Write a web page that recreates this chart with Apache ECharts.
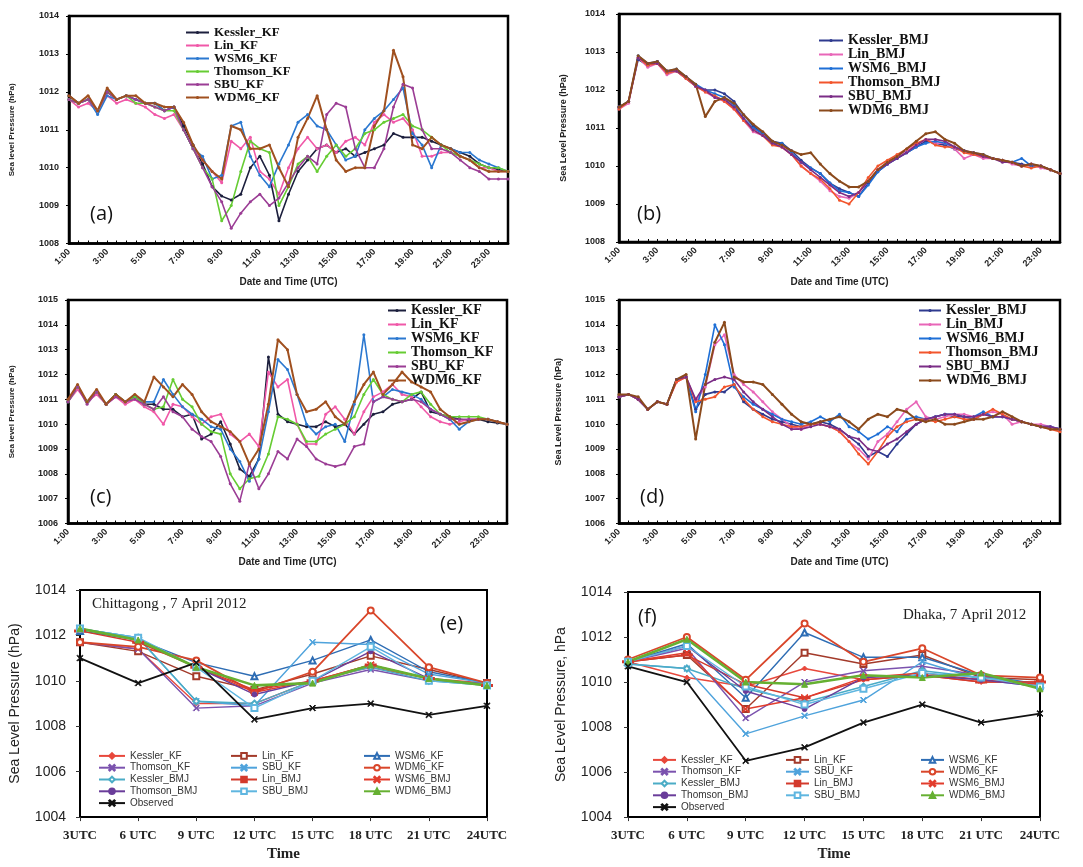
<!DOCTYPE html>
<html><head><meta charset="utf-8">
<script src="https://cdn.jsdelivr.net/npm/echarts@6/dist/echarts.min.js"></script>
<style>
body{margin:0;background:#fff;width:1083px;height:867px;position:relative;overflow:hidden}
.p{position:absolute}
</style></head><body>
<div id="pa" class="p" style="left:0;top:0;width:540px;height:292px"></div>
<div id="pb" class="p" style="left:540px;top:0;width:543px;height:292px"></div>
<div id="pc" class="p" style="left:0;top:292px;width:540px;height:280px"></div>
<div id="pd" class="p" style="left:540px;top:292px;width:543px;height:280px"></div>
<div id="pe" class="p" style="left:0;top:572px;width:540px;height:295px"></div>
<div id="pf" class="p" style="left:540px;top:572px;width:543px;height:295px"></div>
<script>
// ---------- categories ----------
const HOURS = ['1:00','1:30','2:00','2:30','3:00','3:30','4:00','4:30','5:00','5:30','6:00','6:30','7:00','7:30','8:00','8:30','9:00','9:30','10:00','10:30','11:00','11:30','12:00','12:30','13:00','13:30','14:00','14:30','15:00','15:30','16:00','16:30','17:00','17:30','18:00','18:30','19:00','19:30','20:00','20:30','21:00','21:30','22:00','22:30','23:00','23:30','24:00'];
const UTC = ['3UTC','6 UTC','9 UTC','12 UTC','15 UTC','18 UTC','21 UTC','24UTC'];

// ---------- panel (a) KF ----------
const A_KESSLER = [1011.9,1011.7,1011.8,1011.5,1012.0,1011.8,1011.9,1011.8,1011.7,1011.7,1011.5,1011.6,1011.1,1010.6,1010.1,1009.5,1009.25,1009.15,1009.3,1010.0,1010.3,1009.8,1008.6,1009.3,1009.9,1010.2,1010.5,1010.6,1010.4,1010.5,1010.3,1010.4,1010.5,1010.6,1010.9,1010.8,1010.8,1010.8,1010.7,1010.6,1010.5,1010.4,1010.3,1010.1,1010.0,1009.95,1009.9];
const A_LIN = [1011.8,1011.6,1011.7,1011.5,1011.9,1011.7,1011.8,1011.7,1011.6,1011.4,1011.3,1011.4,1011.0,1010.5,1010.2,1009.9,1009.6,1010.7,1010.5,1010.8,1009.9,1009.7,1009.3,1010.0,1010.5,1010.8,1010.5,1010.6,1010.4,1010.7,1010.8,1010.6,1011.2,1011.4,1011.2,1011.3,1011.0,1010.3,1010.3,1010.4,1010.4,1010.3,1010.2,1010.0,1010.0,1009.9,1009.9];
const A_WSM6 = [1011.8,1011.7,1011.8,1011.4,1011.9,1011.8,1011.9,1011.8,1011.7,1011.7,1011.5,1011.6,1011.0,1010.5,1010.3,1009.7,1009.8,1011.1,1011.2,1010.3,1009.8,1009.5,1010.1,1010.6,1011.2,1011.4,1011.1,1011.0,1010.6,1010.2,1010.3,1011.0,1011.3,1011.5,1011.8,1012.1,1010.9,1010.6,1010.0,1010.6,1010.5,1010.4,1010.4,1010.2,1010.1,1010.0,1009.9];
const A_THOMSON = [1011.8,1011.7,1011.8,1011.5,1012.0,1011.8,1011.9,1011.7,1011.7,1011.6,1011.5,1011.5,1011.0,1010.5,1010.0,1009.7,1008.6,1009.0,1009.9,1010.7,1010.5,1010.4,1009.0,1009.5,1010.1,1010.3,1009.9,1010.3,1010.6,1010.3,1010.5,1010.9,1011.0,1011.2,1011.3,1011.4,1011.1,1011.0,1010.8,1010.6,1010.4,1010.3,1010.2,1010.1,1010.0,1010.0,1009.9];
const A_SBU = [1011.8,1011.7,1011.8,1011.5,1012.0,1011.8,1011.9,1011.8,1011.7,1011.6,1011.5,1011.6,1011.0,1010.5,1010.0,1009.5,1009.1,1008.4,1008.8,1009.1,1009.3,1009.0,1009.2,1009.6,1010.0,1010.3,1010.1,1011.4,1011.7,1011.6,1010.5,1010.0,1010.0,1010.5,1011.6,1012.2,1012.1,1011.0,1010.5,1010.5,1010.4,1010.2,1010.0,1009.9,1009.7,1009.7,1009.7];
const A_WDM6 = [1011.9,1011.7,1011.9,1011.5,1012.1,1011.8,1011.9,1011.9,1011.7,1011.7,1011.6,1011.6,1011.2,1010.6,1010.2,1009.9,1009.7,1011.1,1011.0,1010.5,1010.5,1010.6,1010.0,1009.5,1010.8,1011.3,1011.9,1011.0,1010.2,1009.9,1010.0,1010.0,1011.1,1011.5,1013.1,1012.4,1010.6,1010.5,1010.8,1010.6,1010.5,1010.3,1010.2,1010.0,1009.9,1009.9,1009.9];

// ---------- panel (b) BMJ ----------
const B_KESSLER = [1011.55,1011.7,1012.8,1012.65,1012.75,1012.45,1012.5,1012.3,1012.1,1012.0,1012.0,1011.9,1011.7,1011.35,1011.05,1010.85,1010.65,1010.6,1010.4,1010.15,1009.95,1009.8,1009.55,1009.4,1009.3,1009.2,1009.55,1009.85,1010.05,1010.2,1010.35,1010.5,1010.65,1010.6,1010.55,1010.45,1010.4,1010.3,1010.25,1010.2,1010.15,1010.1,1010.05,1010.0,1010.0,1009.9,1009.8];
const B_LIN = [1011.5,1011.65,1012.85,1012.6,1012.7,1012.4,1012.5,1012.3,1012.1,1011.95,1011.8,1011.7,1011.5,1011.2,1010.9,1010.8,1010.6,1010.5,1010.3,1010.0,1009.8,1009.6,1009.35,1009.2,1009.15,1009.3,1009.6,1009.9,1010.1,1010.25,1010.4,1010.55,1010.7,1010.6,1010.6,1010.45,1010.2,1010.3,1010.2,1010.2,1010.15,1010.05,1010.0,1010.05,1009.95,1009.9,1009.8];
const B_WSM6 = [1011.55,1011.7,1012.9,1012.7,1012.75,1012.5,1012.55,1012.35,1012.15,1012.0,1011.9,1011.8,1011.6,1011.25,1011.0,1010.85,1010.6,1010.6,1010.35,1010.1,1009.95,1009.8,1009.55,1009.35,1009.3,1009.2,1009.5,1009.85,1010.05,1010.2,1010.35,1010.5,1010.6,1010.65,1010.6,1010.5,1010.4,1010.35,1010.3,1010.2,1010.15,1010.1,1010.2,1010.0,1010.0,1009.9,1009.8];
const B_THOMSON = [1011.5,1011.7,1012.85,1012.65,1012.7,1012.45,1012.5,1012.3,1012.1,1011.95,1011.85,1011.7,1011.5,1011.2,1010.95,1010.8,1010.55,1010.5,1010.3,1010.0,1009.8,1009.65,1009.4,1009.1,1009.0,1009.3,1009.7,1010.0,1010.15,1010.3,1010.45,1010.6,1010.7,1010.55,1010.5,1010.5,1010.35,1010.3,1010.25,1010.2,1010.15,1010.1,1010.0,1009.95,1010.0,1009.9,1009.8];
const B_SBU = [1011.55,1011.7,1012.85,1012.7,1012.7,1012.5,1012.5,1012.35,1012.1,1012.0,1011.8,1011.75,1011.55,1011.25,1010.95,1010.8,1010.6,1010.5,1010.3,1010.1,1009.9,1009.7,1009.5,1009.3,1009.2,1009.3,1009.6,1009.9,1010.05,1010.2,1010.35,1010.55,1010.7,1010.7,1010.65,1010.5,1010.4,1010.35,1010.25,1010.2,1010.1,1010.1,1010.0,1010.05,1010.0,1009.9,1009.8];
const B_WDM6 = [1011.55,1011.7,1012.9,1012.7,1012.75,1012.5,1012.55,1012.35,1012.15,1011.3,1011.7,1011.8,1011.65,1011.35,1011.1,1010.9,1010.65,1010.55,1010.4,1010.3,1010.35,1010.05,1009.8,1009.6,1009.45,1009.45,1009.6,1009.9,1010.1,1010.25,1010.45,1010.65,1010.85,1010.9,1010.7,1010.6,1010.4,1010.35,1010.3,1010.2,1010.15,1010.1,1010.0,1010.05,1010.0,1009.9,1009.8];

// ---------- panel (c) KF ----------
const C_KESSLER = [1010.9,1011.5,1010.9,1011.3,1010.8,1011.2,1010.9,1011.1,1010.8,1010.8,1010.6,1010.6,1010.3,1010.4,1009.4,1009.6,1010.1,1009.2,1008.2,1007.9,1008.6,1012.7,1010.4,1010.1,1010.0,1009.9,1009.9,1010.1,1009.9,1010.0,1009.6,1010.0,1010.4,1010.5,1010.8,1010.9,1011.0,1011.3,1010.5,1010.4,1010.3,1010.2,1010.15,1010.2,1010.1,1010.05,1010.0];
const C_LIN = [1010.9,1011.4,1010.9,1011.2,1010.8,1011.1,1010.8,1011.0,1010.7,1010.5,1010.0,1010.8,1010.7,1010.3,1010.0,1010.3,1010.4,1009.6,1009.3,1009.6,1009.1,1012.1,1011.5,1011.8,1010.0,1009.2,1009.2,1010.4,1010.7,1010.2,1009.6,1010.5,1011.1,1011.3,1011.6,1011.2,1011.1,1010.7,1010.3,1010.1,1010.0,1010.1,1010.2,1010.2,1010.2,1010.1,1010.0];
const C_WSM6 = [1010.9,1011.5,1010.9,1011.3,1010.8,1011.2,1010.9,1011.1,1010.9,1010.9,1011.8,1011.2,1010.7,1010.4,1010.2,1009.9,1009.8,1009.0,1008.5,1007.7,1008.6,1010.5,1012.6,1012.2,1011.2,1010.0,1009.6,1009.9,1010.0,1009.3,1010.8,1013.6,1010.9,1011.1,1011.4,1011.3,1011.2,1011.0,1010.6,1010.4,1010.2,1009.8,1010.1,1010.2,1010.2,1010.1,1010.0];
const C_THOMSON = [1010.9,1011.5,1010.9,1011.3,1010.8,1011.2,1010.9,1011.1,1010.8,1010.6,1010.7,1011.8,1011.0,1010.7,1010.0,1009.7,1009.6,1008.0,1007.4,1007.8,1007.9,1008.8,1010.3,1010.2,1010.0,1009.3,1009.3,1009.6,1009.8,1010.0,1010.3,1011.2,1011.8,1011.2,1011.0,1010.9,1011.2,1011.3,1010.8,1010.4,1010.3,1010.3,1010.3,1010.3,1010.2,1010.1,1010.0];
const C_SBU = [1010.9,1011.5,1010.8,1011.3,1010.8,1011.1,1010.9,1011.0,1010.8,1010.6,1011.1,1010.5,1010.3,1009.8,1009.5,1009.3,1008.7,1007.6,1006.9,1008.4,1007.4,1008.0,1008.9,1008.6,1009.4,1009.1,1008.6,1008.4,1008.3,1008.4,1009.1,1009.2,1010.9,1011.1,1011.0,1010.9,1011.0,1010.9,1010.6,1010.4,1010.2,1010.2,1010.2,1010.2,1010.2,1010.1,1010.0];
const C_WDM6 = [1011.0,1011.6,1010.9,1011.4,1010.8,1011.2,1010.9,1011.2,1010.9,1011.9,1011.5,1011.1,1011.6,1011.2,1010.5,1010.1,1009.9,1009.7,1009.3,1008.4,1009.0,1010.8,1013.4,1013.0,1011.2,1010.5,1010.6,1010.9,1010.3,1010.0,1010.9,1011.6,1012.1,1011.2,1011.6,1012.1,1011.7,1011.5,1011.3,1010.6,1010.3,1010.0,1010.1,1010.2,1010.2,1010.1,1010.0];

// ---------- panel (d) BMJ ----------
const D_KESSLER = [1011.1,1011.2,1011.0,1010.6,1010.9,1010.8,1011.8,1011.9,1010.6,1011.2,1011.3,1011.3,1011.6,1010.9,1010.6,1010.4,1010.2,1010.1,1010.0,1009.9,1010.0,1010.1,1010.0,1009.8,1009.5,1009.2,1008.7,1008.9,1008.7,1009.2,1009.6,1010.0,1010.2,1010.3,1010.4,1010.3,1010.3,1010.2,1010.4,1010.3,1010.3,1010.2,1010.1,1010.0,1009.9,1009.9,1009.8];
const D_LIN = [1011.1,1011.2,1011.0,1010.6,1010.9,1010.8,1011.7,1011.9,1010.9,1011.5,1013.2,1013.6,1012.0,1011.6,1011.3,1010.9,1010.5,1010.2,1009.9,1009.8,1010.0,1010.0,1009.9,1009.7,1009.3,1009.0,1008.6,1009.3,1009.6,1010.1,1010.6,1010.9,1010.3,1010.2,1010.3,1010.4,1010.4,1010.3,1010.4,1010.5,1010.4,1010.0,1010.1,1010.0,1010.0,1009.9,1009.8];
const D_WSM6 = [1011.1,1011.2,1011.0,1010.6,1010.9,1010.8,1011.8,1011.9,1010.5,1012.0,1014.0,1013.2,1011.5,1011.1,1010.8,1010.6,1010.4,1010.2,1010.1,1010.0,1010.1,1010.3,1010.1,1010.4,1009.9,1009.7,1009.4,1009.6,1009.9,1009.7,1010.2,1010.3,1010.2,1010.3,1010.4,1010.4,1010.3,1010.3,1010.5,1010.3,1010.3,1010.2,1010.1,1010.0,1009.9,1009.9,1009.8];
const D_THOMSON = [1011.1,1011.2,1011.0,1010.6,1010.9,1010.8,1011.7,1011.9,1010.9,1011.0,1011.1,1011.5,1011.6,1011.0,1010.6,1010.3,1010.1,1010.0,1009.9,1009.9,1010.0,1010.0,1009.9,1009.7,1009.3,1008.8,1008.4,1008.9,1009.5,1009.9,1010.1,1010.2,1010.2,1010.1,1010.2,1010.3,1010.2,1010.2,1010.4,1010.6,1010.4,1010.2,1010.1,1010.0,1009.9,1009.8,1009.7];
const D_SBU = [1011.1,1011.2,1011.0,1010.6,1010.9,1010.8,1011.8,1011.9,1011.0,1011.6,1011.8,1011.9,1011.8,1011.3,1010.9,1010.6,1010.3,1010.0,1009.8,1009.8,1009.9,1010.0,1009.9,1009.8,1009.5,1009.4,1009.0,1008.9,1009.2,1009.4,1009.7,1010.0,1010.2,1010.3,1010.4,1010.4,1010.3,1010.3,1010.4,1010.3,1010.3,1010.2,1010.1,1010.0,1009.9,1009.9,1009.8];
const D_WDM6 = [1011.2,1011.2,1011.1,1010.6,1010.9,1010.8,1011.8,1012.0,1009.4,1011.6,1013.3,1014.1,1011.9,1011.7,1011.7,1011.6,1011.2,1010.8,1010.4,1010.1,1010.0,1010.1,1010.2,1010.3,1010.1,1009.8,1010.2,1010.4,1010.3,1010.6,1010.5,1010.2,1010.1,1010.2,1010.0,1010.0,1010.1,1010.2,1010.2,1010.3,1010.5,1010.3,1010.1,1010.0,1009.9,1009.8,1009.8];

// ---------- panel (e) Chittagong ----------
const E_KESSLER_KF = [1011.7,1011.4,1009.0,1009.0,1010.0,1010.6,1010.1,1009.9];
const E_LIN_KF = [1011.7,1011.3,1010.2,1009.6,1010.3,1011.1,1010.5,1009.9];
const E_WSM6_KF = [1012.2,1011.8,1010.8,1010.2,1010.9,1011.8,1010.4,1009.9];
const E_THOMSON_KF = [1011.7,1011.4,1008.8,1008.9,1009.9,1010.5,1010.0,1009.9];
const E_SBU_KF = [1012.3,1011.9,1009.1,1008.9,1011.7,1011.6,1010.3,1009.9];
const E_WDM6_KF = [1011.7,1011.5,1010.9,1009.5,1010.4,1013.1,1010.6,1009.9];
const E_KESSLER_BMJ = [1012.3,1011.9,1009.1,1009.0,1010.0,1010.6,1010.0,1009.8];
const E_LIN_BMJ = [1012.2,1011.7,1010.6,1009.6,1010.0,1010.7,1010.1,1009.8];
const E_WSM6_BMJ = [1012.3,1011.8,1010.6,1009.5,1010.0,1010.7,1010.1,1009.8];
const E_THOMSON_BMJ = [1012.3,1011.8,1010.6,1009.4,1010.0,1011.3,1010.1,1009.8];
const E_SBU_BMJ = [1012.3,1011.9,1010.6,1008.8,1010.0,1011.5,1010.0,1009.8];
const E_WDM6_BMJ = [1012.3,1011.8,1010.6,1009.8,1009.9,1010.7,1010.1,1009.8];
const E_OBS = [1011.0,1009.9,1010.8,1008.3,1008.8,1009.0,1008.5,1008.9];

// ---------- panel (f) Dhaka ----------
const F_KESSLER_KF = [1010.9,1010.2,1009.8,1010.6,1010.1,1010.3,1010.0,1010.0];
const F_LIN_KF = [1010.9,1011.2,1008.8,1011.3,1010.8,1011.2,1010.2,1010.1];
const F_WSM6_KF = [1010.9,1011.7,1009.3,1012.2,1011.1,1011.1,1010.3,1009.9];
const F_THOMSON_KF = [1010.9,1011.5,1008.4,1010.0,1010.5,1010.7,1010.3,1009.8];
const F_SBU_KF = [1010.8,1010.6,1007.7,1008.5,1009.2,1010.9,1010.1,1009.8];
const F_WDM6_KF = [1011.0,1012.0,1010.1,1012.6,1010.9,1011.5,1010.3,1010.2];
const F_KESSLER_BMJ = [1010.8,1010.6,1009.7,1009.1,1009.8,1010.5,1010.2,1009.9];
const F_LIN_BMJ = [1010.9,1011.2,1009.9,1009.3,1010.1,1010.3,1010.0,1010.0];
const F_WSM6_BMJ = [1010.9,1011.3,1008.8,1009.3,1010.2,1010.4,1010.1,1009.9];
const F_THOMSON_BMJ = [1010.9,1011.6,1009.6,1008.8,1010.2,1010.3,1010.1,1009.8];
const F_SBU_BMJ = [1010.9,1011.6,1009.8,1009.0,1009.7,1010.4,1010.2,1009.8];
const F_WDM6_BMJ = [1010.9,1011.9,1010.0,1009.9,1010.3,1010.2,1010.4,1009.7];
const F_OBS = [1010.7,1010.0,1006.5,1007.1,1008.2,1009.0,1008.2,1008.6];

// ---------- styling helpers ----------
const SANS = '"Liberation Sans", Arial, sans-serif';
const SERIF = '"Liberation Serif", "Times New Roman", serif';
const KF_COL = ['#1c1f3d','#f058a8','#2b78d0','#66cc33','#9b3d95','#a0501f'];
const BMJ_COL = ['#2e3a8f','#e866b8','#1e6fd6','#f2552c','#7b2d86','#8b4a1c'];
const plain = v => String(v);

function tsOption(c){
  return {
    animation:false,
    grid:{left:c.gl, top:c.gt, width:c.gw, height:c.gh, show:true, borderColor:'#000', borderWidth:2.5, containLabel:false},
    xAxis:{type:'category', data:HOURS, boundaryGap:false,
      axisLine:{lineStyle:{color:'#000', width:2.5}},
      axisTick:{interval:0, inside:true, length:3, lineStyle:{color:'#000', width:1}},
      axisLabel:{interval:3, rotate:45, fontSize:9, fontWeight:'bold', color:'#222', margin:7, fontFamily:SANS},
      name:'Date and Time (UTC)', nameLocation:'middle', nameGap:c.xng,
      nameTextStyle:{fontSize:10, fontWeight:'bold', color:'#222', fontFamily:SANS}},
    yAxis:{type:'value', min:c.ymin, max:c.ymax, interval:1, splitLine:{show:false},
      axisLine:{show:true, lineStyle:{color:'#000', width:2.5}},
      axisTick:{show:true, length:3, lineStyle:{color:'#000'}},
      axisLabel:{formatter:plain, fontSize:9, fontWeight:'bold', color:'#222', margin:c.ylm, fontFamily:SANS},
      name:c.yname, nameLocation:'middle', nameGap:c.yng,
      nameTextStyle:{fontSize:c.ynfs, fontWeight:'bold', color:'#222', fontFamily:SANS}},
    legend:{left:c.ll, top:c.lt, orient:'vertical', padding:0, itemGap:0, itemWidth:c.lw, itemHeight:4,
      textStyle:{fontFamily:SERIF, fontWeight:'bold', fontSize:c.lfs, lineHeight:c.llh, color:'#111'},
      data:c.series.map(s=>s[0])},
    graphic:[{type:'text', left:c.tx, top:c.ty, style:{text:c.tag, font:'20px "Open Sans", sans-serif', fill:'#111'}}],
    series:c.series.map(s=>({name:s[0], type:'line', data:s[1], symbol:'circle', symbolSize:3, showAllSymbol:true,
      lineStyle:{color:s[2], width:s[3]||1.6}, itemStyle:{color:s[2]}}))
  };
}

const XS = 'path://M1,0L5,4L9,0L10,1L6,5L10,9L9,10L5,6L1,10L0,9L4,5L0,1Z';
const DASH = 'path://M0,4L10,4L10,6L0,6Z';

function mSeries(name, data, color, symbol, size, width){
  return {name, type:'line', data, symbol, symbolSize:size, showAllSymbol:true,
    lineStyle:{color, width:width||1.4}, itemStyle:{color, borderColor:color, borderWidth:1}};
}

function utcOption(c){
  const lt = {orient:'vertical', padding:0, itemGap:0, itemWidth:c.lw, itemHeight:7, top:c.lt,
    textStyle:{fontFamily:SANS, fontSize:10, lineHeight:11.8, color:'#333'}};
  return {
    animation:false,
    grid:{left:c.gl, top:c.gt, width:c.gw, height:c.gh, show:true, borderColor:'#000', borderWidth:2},
    title:{text:c.title, left:c.ttx, top:c.tty, padding:0,
      textStyle:{fontFamily:SERIF, fontSize:15, fontWeight:'normal', color:'#222'}},
    xAxis:{type:'category', data:UTC, boundaryGap:false,
      axisLine:{lineStyle:{color:'#000', width:2}},
      axisTick:{show:true, interval:0, length:4, lineStyle:{color:'#333'}},
      axisLabel:{interval:0, fontFamily:SERIF, fontSize:13, fontWeight:'bold', color:'#222', margin:12},
      name:'Time', nameLocation:'middle', nameGap:27,
      nameTextStyle:{fontFamily:SERIF, fontSize:15, fontWeight:'bold', color:'#222'}},
    yAxis:{type:'value', min:1004, max:1014, interval:2, splitLine:{show:false},
      axisLine:{show:true, lineStyle:{color:'#000', width:2}},
      axisTick:{show:true, length:4, lineStyle:{color:'#333'}},
      axisLabel:{formatter:plain, fontFamily:SANS, fontSize:14, color:'#222', margin:c.ylm},
      name:c.yname, nameLocation:'middle', nameGap:c.yng,
      nameTextStyle:{fontFamily:SANS, fontSize:14, color:'#222'}},
    legend:[
      Object.assign({left:c.c1, data:['Kessler_KF','Thomson_KF','Kessler_BMJ','Thomson_BMJ','Observed']}, lt),
      Object.assign({left:c.c2, data:['Lin_KF','SBU_KF','Lin_BMJ','SBU_BMJ']}, lt),
      Object.assign({left:c.c3, data:['WSM6_KF','WDM6_KF','WSM6_BMJ','WDM6_BMJ']}, lt)
    ],
    graphic:[{type:'text', left:c.tx, top:c.ty, style:{text:c.tag, font:'20px "Open Sans", sans-serif', fill:'#111'}}],
    series:[
      mSeries('Kessler_KF', c.d[0], '#e8483c', 'diamond', 5),
      mSeries('Lin_KF', c.d[1], '#a33a2a', 'emptyRect', 6),
      mSeries('WSM6_KF', c.d[2], '#2e6db4', 'emptyTriangle', 6),
      mSeries('Thomson_KF', c.d[3], '#7b52ae', XS, 6),
      mSeries('SBU_KF', c.d[4], '#4fa3dc', XS, 6),
      mSeries('WDM6_KF', c.d[5], '#d9462a', 'emptyCircle', 6, 1.8),
      mSeries('Kessler_BMJ', c.d[6], '#4bacc6', 'emptyDiamond', 6),
      mSeries('Lin_BMJ', c.d[7], '#d33a2c', DASH, [8,2]),
      mSeries('WSM6_BMJ', c.d[8], '#e23c2c', XS, 7),
      mSeries('Thomson_BMJ', c.d[9], '#6a3d9a', 'circle', 5),
      mSeries('SBU_BMJ', c.d[10], '#5fb6e0', 'emptyRect', 6),
      mSeries('WDM6_BMJ', c.d[11], '#66b032', 'triangle', 6, 2.6),
      mSeries('Observed', c.d[12], '#111111', XS, 6, 1.8)
    ]
  };
}

const charts = {};
function mk(id, opt){ const ch = echarts.init(document.getElementById(id), null, {renderer:'canvas'}); ch.setOption(opt); charts[id]=ch; }

mk('pa', tsOption({gl:68, gt:16, gw:440, gh:235, ymin:1008, ymax:1014, xng:32, ylm:10, yng:53, ynfs:8,
  yname:'Sea level Pressure (hPa)', ll:185, lt:26, lw:23, lfs:13, llh:12, tx:90, ty:204, tag:'(a)',
  series:[['Kessler_KF',A_KESSLER,KF_COL[0]],['Lin_KF',A_LIN,KF_COL[1]],['WSM6_KF',A_WSM6,KF_COL[2]],
          ['Thomson_KF',A_THOMSON,KF_COL[3]],['SBU_KF',A_SBU,KF_COL[4]],['WDM6_KF',A_WDM6,KF_COL[5],2]]}));

mk('pb', tsOption({gl:79, gt:14, gw:441, gh:234, ymin:1008, ymax:1014, xng:35, ylm:14, yng:51, ynfs:9,
  yname:'Sea Level Pressure (hPa)', ll:278, lt:33.5, lw:24, lfs:14, llh:13, tx:97, ty:204, tag:'(b)',
  series:[['Kessler_BMJ',B_KESSLER,BMJ_COL[0]],['Lin_BMJ',B_LIN,BMJ_COL[1]],['WSM6_BMJ',B_WSM6,BMJ_COL[2]],
          ['Thomson_BMJ',B_THOMSON,BMJ_COL[3]],['SBU_BMJ',B_SBU,BMJ_COL[4]],['WDM6_BMJ',B_WDM6,BMJ_COL[5],2]]}));

mk('pc', tsOption({gl:67, gt:8, gw:440, gh:228, ymin:1006, ymax:1015, xng:31, ylm:10, yng:52, ynfs:8,
  yname:'Sea level Pressure (hPa)', ll:387, lt:11.5, lw:18, lfs:14, llh:13, tx:90, ty:195, tag:'(c)',
  series:[['Kessler_KF',C_KESSLER,KF_COL[0]],['Lin_KF',C_LIN,KF_COL[1]],['WSM6_KF',C_WSM6,KF_COL[2]],
          ['Thomson_KF',C_THOMSON,KF_COL[3]],['SBU_KF',C_SBU,KF_COL[4]],['WDM6_KF',C_WDM6,KF_COL[5],2]]}));

mk('pd', tsOption({gl:79, gt:8, gw:441, gh:228, ymin:1006, ymax:1015, xng:31, ylm:14, yng:56, ynfs:9,
  yname:'Sea Level Pressure (hPa)', ll:378, lt:11.5, lw:22, lfs:14, llh:13, tx:100, ty:195, tag:'(d)',
  series:[['Kessler_BMJ',D_KESSLER,BMJ_COL[0]],['Lin_BMJ',D_LIN,BMJ_COL[1]],['WSM6_BMJ',D_WSM6,BMJ_COL[2]],
          ['Thomson_BMJ',D_THOMSON,BMJ_COL[3]],['SBU_BMJ',D_SBU,BMJ_COL[4]],['WDM6_BMJ',D_WDM6,BMJ_COL[5],2]]}));

mk('pe', utcOption({gl:76, gt:18, gw:411, gh:231, ylm:14, yng:58, yname:'Sea Level Pressure (hPa)',
  title:'Chittagong , 7 April 2012', ttx:92, tty:25, tx:440, ty:42, tag:'(e)', lw:26, lt:178, c1:98, c2:230, c3:363,
  d:[E_KESSLER_KF,E_LIN_KF,E_WSM6_KF,E_THOMSON_KF,E_SBU_KF,E_WDM6_KF,E_KESSLER_BMJ,E_LIN_BMJ,E_WSM6_BMJ,E_THOMSON_BMJ,E_SBU_BMJ,E_WDM6_BMJ,E_OBS]}));

mk('pf', utcOption({gl:88, gt:20, gw:412, gh:230, ylm:16, yng:60, yname:'Sea Level Pressure, hPa',
  title:'Dhaka, 7 April 2012', ttx:363, tty:36, tx:98, ty:35, tag:'(f)', lw:23, lt:182, c1:112, c2:245, c3:380,
  d:[F_KESSLER_KF,F_LIN_KF,F_WSM6_KF,F_THOMSON_KF,F_SBU_KF,F_WDM6_KF,F_KESSLER_BMJ,F_LIN_BMJ,F_WSM6_BMJ,F_THOMSON_BMJ,F_SBU_BMJ,F_WDM6_BMJ,F_OBS]}));
</script>
</body></html>
